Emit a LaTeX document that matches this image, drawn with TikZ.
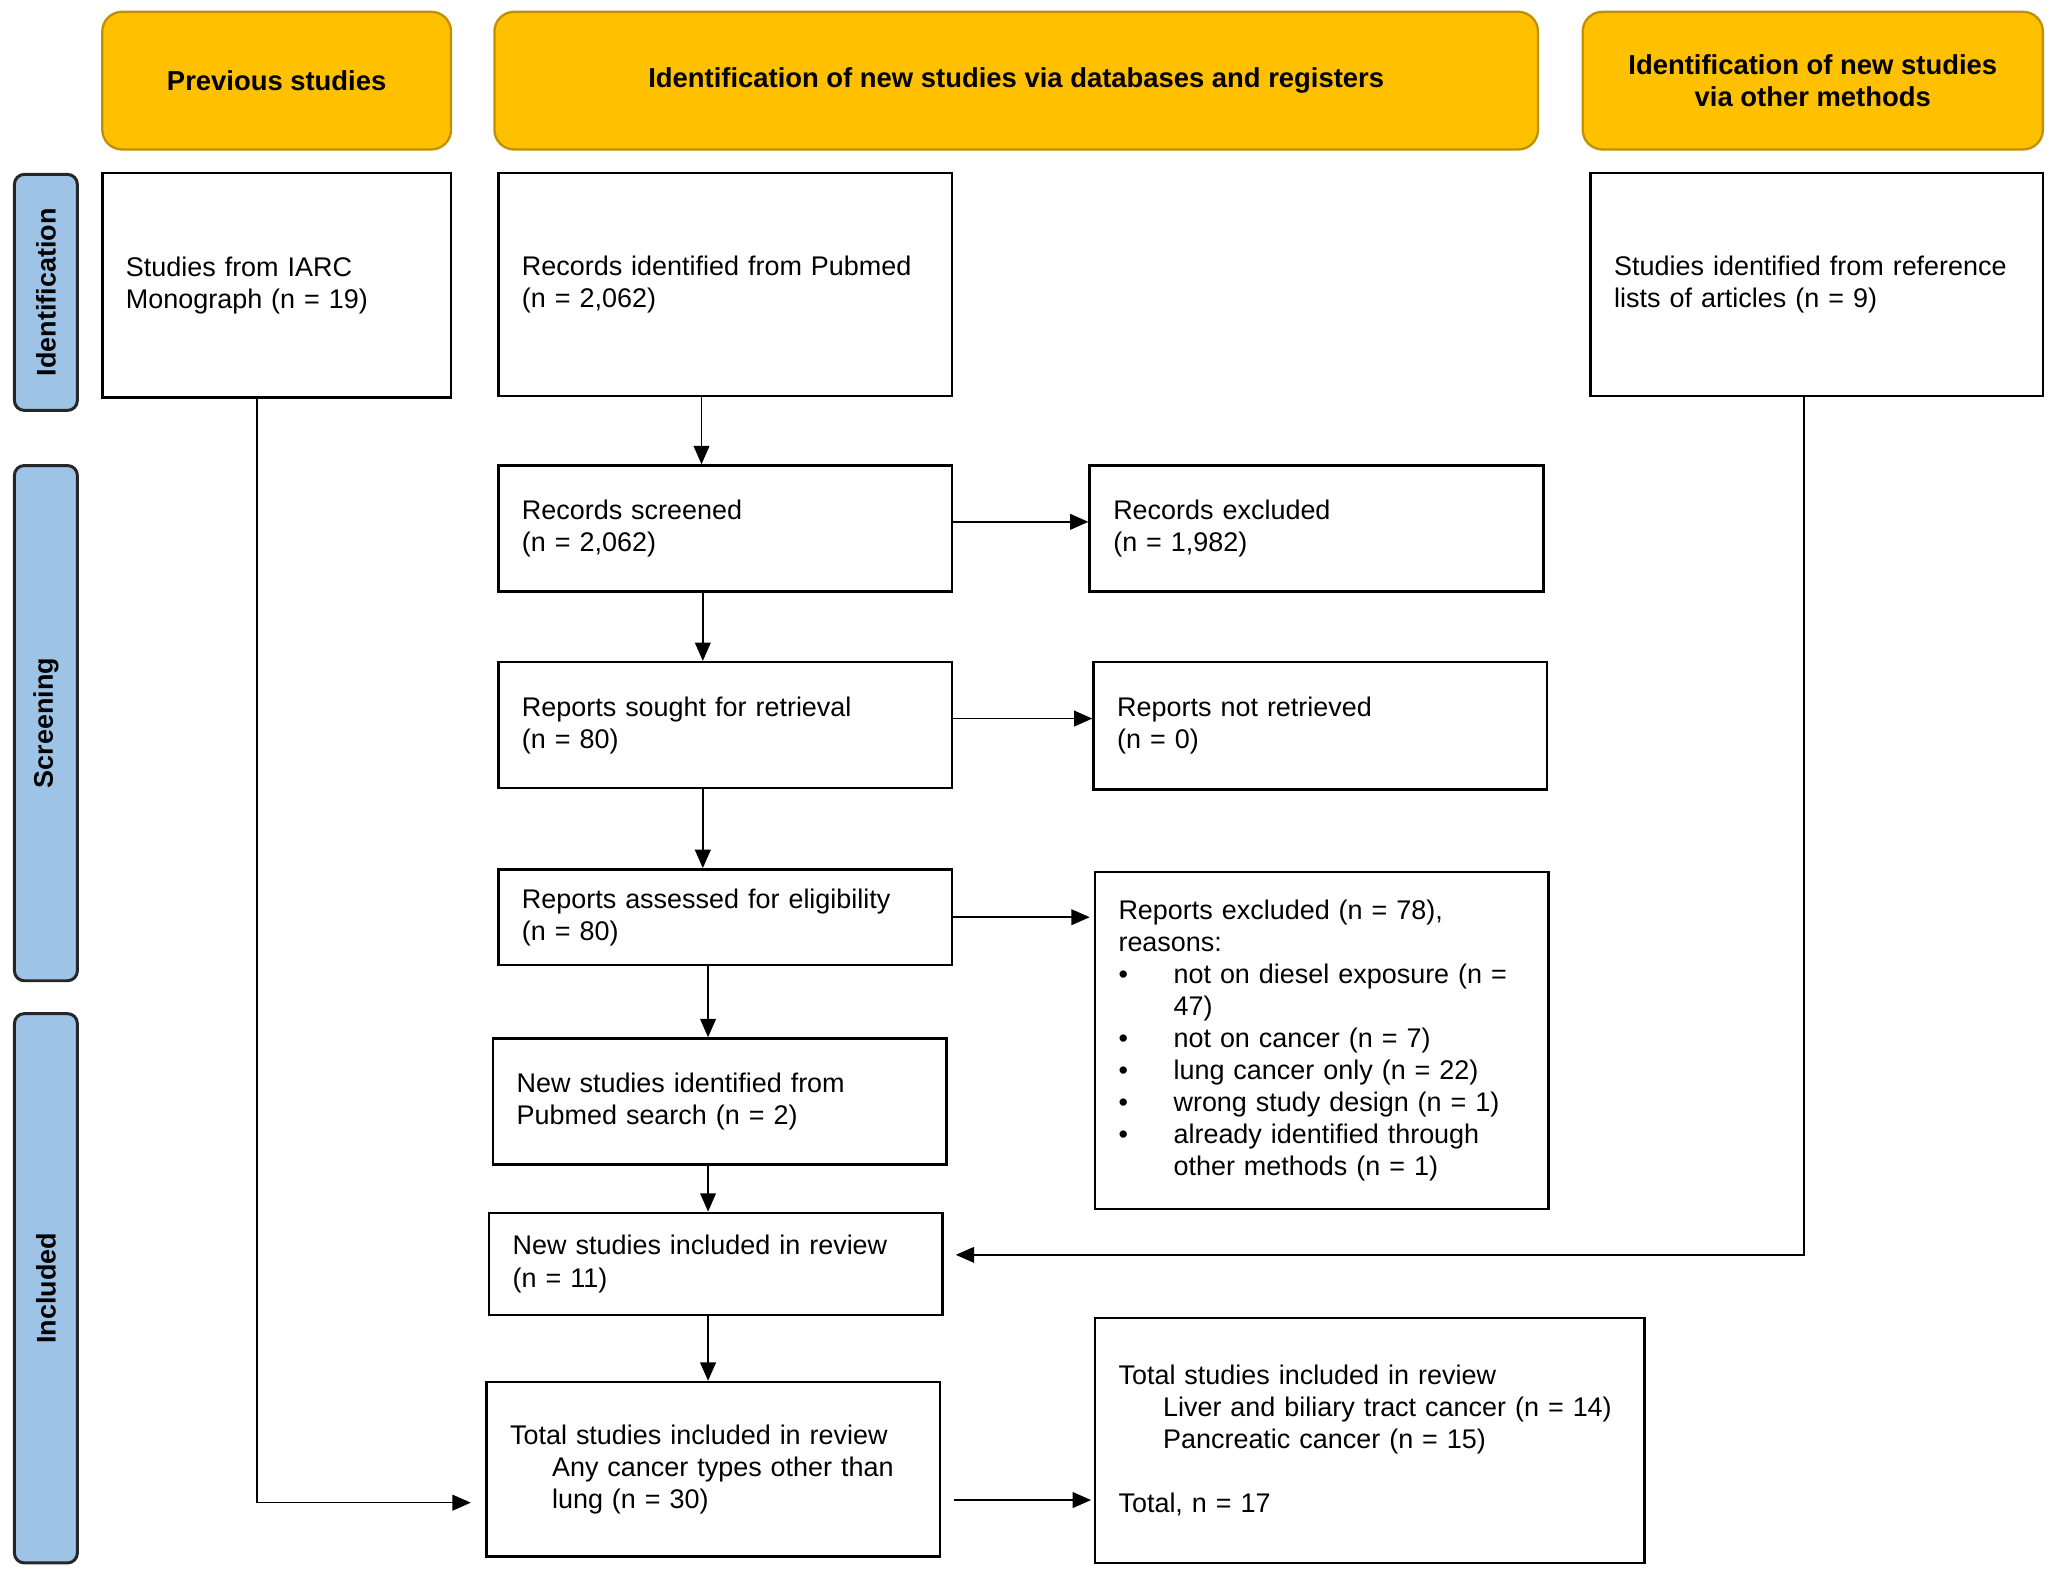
\documentclass[tikz,border=0pt]{standalone}
\usepackage{fontspec}
\setmainfont{Liberation Sans}
\usetikzlibrary{arrows.meta, positioning}
\definecolor{headgold}{HTML}{FFC000}
\definecolor{headedge}{HTML}{BF9000}
\definecolor{sideblue}{HTML}{9DC3E6}
\newcommand{\bul}{\makebox[0.84cm][l]{\textbullet}}

\begin{document}
\begin{tikzpicture}[x=0.02cm, y=-0.02cm, >={Triangle[length=0.28cm, width=0.24cm]},
  every node/.style={font=\fontsize{11.7}{13.9}\selectfont},
  head/.style={draw=headedge, line width=1pt, fill=headgold, rounded corners=0.3cm,
    minimum height=2.1cm, align=center, font=\fontsize{11.9}{13.9}\selectfont\bfseries},
  side/.style={draw=black!85, line width=1.3pt, fill=sideblue, rounded corners=0.15cm,
    rotate=90, minimum height=0.96cm, font=\fontsize{11.7}{13.9}\selectfont\bfseries},
  box/.style={draw, line width=1.1pt, inner xsep=0.36cm, inner ysep=0pt, align=left},
  link/.style={->, line width=0.7pt}]

  \useasboundingbox (0,0) rectangle (1568,1202);

  % Headers
  \node[head, minimum width=5.32cm] (hprev) at (211,61.5) {Previous studies};
  \node[head, minimum width=15.92cm] (hdb) at (775,61.5) {Identification of new studies via databases and registers};
  \node[head, minimum width=7.02cm] (hother) at (1382.5,61.5) {Identification of new studies\\via other methods};

  % Phases
  \node[side, minimum width=3.6cm] (sid) at (35,223) {Identification};
  \node[side, minimum width=7.86cm] (sscr) at (35,551.5) {Screening};
  \node[side, minimum width=8.38cm] (sinc) at (35,982.5) {Included};

  % Boxes
  \node[box, text width=4.6cm, minimum height=3.42cm] (iarc) at (211,217.5) {Studies from IARC\\Monograph (n = 19)};
  \node[box, text width=6.2cm, minimum height=3.4cm] (pubmed) at (553,217) {Records identified from Pubmed\\(n = 2,062)};
  \node[box, text width=6.18cm, minimum height=3.4cm] (reflist) at (1385.5,217) {Studies identified from reference\\lists of articles (n = 9)};
  \node[box, text width=6.2cm, minimum height=1.92cm] (screened) at (553,403) {Records screened\\(n = 2,062)};
  \node[box, text width=6.2cm, minimum height=1.92cm] (recexcl) at (1004,403) {Records excluded\\(n = 1,982)};
  \node[box, text width=6.2cm, minimum height=1.92cm] (sought) at (553,553) {Reports sought for retrieval\\(n = 80)};
  \node[box, text width=6.2cm, minimum height=1.94cm] (notret) at (1007,553.5) {Reports not retrieved\\(n = 0)};
  \node[box, text width=6.2cm, minimum height=1.46cm] (assessed) at (553,699.5) {Reports assessed for eligibility\\(n = 80)};
  \node[box, text width=6.2cm, minimum height=5.14cm] (repexcl) at (1008,793.5) {Reports excluded (n = 78),\\reasons:\\
    \bul not on diesel exposure (n =\\\hspace*{0.84cm}47)\\
    \bul not on cancer (n = 7)\\
    \bul lung cancer only (n = 22)\\
    \bul wrong study design (n = 1)\\
    \bul already identified through\\\hspace*{0.84cm}other methods (n = 1)};
  \node[box, text width=6.2cm, minimum height=1.92cm] (newid) at (549,840) {New studies identified from\\Pubmed search (n = 2)};
  \node[box, text width=6.2cm, minimum height=1.56cm] (newinc) at (546,964) {New studies included in review\\(n = 11)};
  \node[box, text width=6.2cm, minimum height=2.66cm] (total) at (544,1120.5) {Total studies included in review\\
    \hspace*{0.64cm}Any cancer types other than\\\hspace*{0.64cm}lung (n = 30)};
  \node[box, text width=7.66cm, minimum height=3.74cm] (totalsub) at (1044.5,1098.5) {Total studies included in review\\
    \hspace*{0.68cm}Liver and biliary tract cancer (n = 14)\\\hspace*{0.68cm}Pancreatic cancer (n = 15)\\[13.9pt]Total, n = 17};

  % Main path
  \draw[link] ([xshift=-0.36cm]pubmed.south) -- ([xshift=-0.36cm]screened.north);
  \draw[link] ([xshift=-0.34cm]screened.south) -- ([xshift=-0.34cm]sought.north);
  \draw[link] ([xshift=-0.34cm]sought.south) -- ([xshift=-0.34cm]assessed.north);
  \draw[link] ([xshift=-0.26cm]assessed.south) -- ([xshift=-0.26cm]assessed.south |- newid.north);
  \draw[link] ([xshift=-0.18cm]newid.south) -- ([xshift=-0.18cm]newid.south |- newinc.north);
  \draw[link] ([xshift=-0.12cm]newinc.south) -- ([xshift=-0.12cm]newinc.south |- total.north);

  % Exclusions
  \draw[link] ([yshift=0.1cm]screened.east) -- ([yshift=0.1cm]screened.east -| recexcl.west);
  \draw[link] ([yshift=0.1cm]sought.east) -- ([yshift=0.1cm]sought.east -| notret.west);
  \draw[link, shorten >=0.06cm] (assessed.east) -- (assessed.east -| repexcl.west);
  \draw[link, shorten <=0.2cm, shorten >=0.04cm] ([yshift=-0.47cm]total.east) -- ([yshift=-0.47cm]total.east -| totalsub.west);

  % Side inputs
  \draw[link, shorten >=0.22cm] ([xshift=-0.3cm]iarc.south) |- ([yshift=-0.51cm]total.west);
  \draw[link, shorten >=0.18cm] ([xshift=-0.19cm]reflist.south) |- ([yshift=0.14cm]newinc.east);

\end{tikzpicture}
\end{document}
